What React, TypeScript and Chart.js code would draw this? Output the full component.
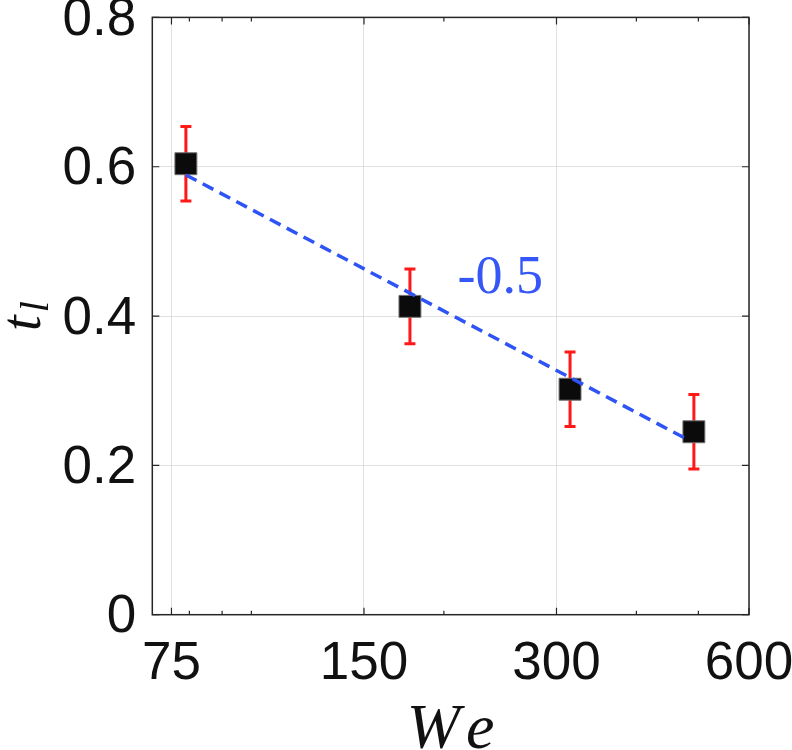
import React, { useEffect, useRef } from "react";
import { Chart, registerables } from "chart.js";

Chart.register(...registerables);

// ---- data ----
const weValues = [79, 177, 315, 492];
const tlValues = [0.604, 0.413, 0.302, 0.245];
const tlErrors = [0.05, 0.05, 0.05, 0.05];
const fitWe = [79, 485];
const fitTl = [0.589, 0.233];
const xTickValues = [75, 150, 300, 600];
const xMinorTickValues = [80, 90, 100, 200, 400, 500];
const yTickValues = [0, 0.2, 0.4, 0.6, 0.8];
const yTickLabels = ["0", "0.2", "0.4", "0.6", "0.8"];
const slopeText = "-0.5";
const slopeAnchor = { x: 210, y: 0.431 };
const xTitleParts = ["W", "e"];
const yTitleMain = "t";
const yTitleSub = "l";

const AXIS = "#262626";

const decorPlugin = {
  id: "decor",
  beforeDatasetsDraw(chart: any) {
    const { ctx, scales } = chart;
    const x = scales.x, y = scales.y;
    ctx.save();
    ctx.strokeStyle = "rgb(255,24,24)";
    ctx.lineWidth = 3;
    weValues.forEach((w, i) => {
      const px = x.getPixelForValue(w);
      const top = y.getPixelForValue(tlValues[i] + tlErrors[i]);
      const bot = y.getPixelForValue(tlValues[i] - tlErrors[i]);
      ctx.beginPath();
      ctx.moveTo(px, top);
      ctx.lineTo(px, bot);
      ctx.moveTo(px - 5.5, top);
      ctx.lineTo(px + 5.5, top);
      ctx.moveTo(px - 5.5, bot);
      ctx.lineTo(px + 5.5, bot);
      ctx.stroke();
    });
    ctx.restore();
  },
  afterDraw(chart: any) {
    const { ctx, chartArea, scales } = chart;
    const x = scales.x, y = scales.y;
    const { left, right, top, bottom } = chartArea;
    ctx.save();
    // box
    ctx.strokeStyle = AXIS;
    ctx.lineWidth = 1.5;
    ctx.strokeRect(left, top, right - left, bottom - top);
    // ticks
    ctx.lineWidth = 1.2;
    ctx.beginPath();
    xTickValues.forEach((v) => {
      const px = x.getPixelForValue(v);
      ctx.moveTo(px, bottom); ctx.lineTo(px, bottom - 7);
      ctx.moveTo(px, top); ctx.lineTo(px, top + 7);
    });
    xMinorTickValues.forEach((v) => {
      const px = x.getPixelForValue(v);
      ctx.moveTo(px, bottom); ctx.lineTo(px, bottom - 4);
      ctx.moveTo(px, top); ctx.lineTo(px, top + 4);
    });
    yTickValues.forEach((v) => {
      const py = y.getPixelForValue(v);
      ctx.moveTo(left, py); ctx.lineTo(left + 7, py);
      ctx.moveTo(right, py); ctx.lineTo(right - 7, py);
    });
    ctx.stroke();

    // slope label
    ctx.fillStyle = "#3557f7";
    ctx.font = "54px 'Liberation Serif'";
    ctx.textAlign = "left";
    ctx.textBaseline = "alphabetic";
    ctx.fillText(slopeText, x.getPixelForValue(slopeAnchor.x), y.getPixelForValue(slopeAnchor.y));

    // x title (math italic with a small gap)
    ctx.fillStyle = "#111";
    ctx.font = "italic 64px 'Liberation Serif'";
    const gap = 6;
    const w0 = ctx.measureText(xTitleParts[0]).width;
    const w1 = ctx.measureText(xTitleParts[1]).width;
    const sx = (left + right) / 2 - (w0 + gap + w1) / 2;
    ctx.fillText(xTitleParts[0], sx, 748);
    ctx.fillText(xTitleParts[1], sx + w0 + gap, 748);

    // y title with subscript
    const cy = (top + bottom) / 2;
    ctx.translate(40, cy);
    ctx.rotate(-Math.PI / 2);
    ctx.textAlign = "left";
    ctx.font = "italic 56px 'Liberation Serif'";
    const tw = ctx.measureText(yTitleMain).width;
    ctx.font = "italic 40px 'Liberation Serif'";
    const lw = ctx.measureText(yTitleSub).width;
    const start = -(tw + lw + 3) / 2;
    ctx.font = "italic 56px 'Liberation Serif'";
    ctx.fillText(yTitleMain, start, 0);
    ctx.font = "italic 40px 'Liberation Serif'";
    ctx.fillText(yTitleSub, start + tw + 3, 8);
    ctx.restore();
  },
};

export default function App() {
  const ref = useRef<HTMLCanvasElement | null>(null);
  useEffect(() => {
    if (!ref.current) return;
    const chart = new Chart(ref.current, {
      type: "scatter",
      data: {
        datasets: [
          {
            type: "line",
            data: fitWe.map((w, i) => ({ x: w, y: fitTl[i] })),
            borderColor: "#2e54f6",
            borderWidth: 3.5,
            borderDash: [12, 7],
            pointRadius: 0,
            fill: false,
            order: 0,
          } as any,
          {
            type: "scatter",
            data: weValues.map((w, i) => ({ x: w, y: tlValues[i] })),
            pointStyle: "rect",
            pointRadius: 15.5,
            backgroundColor: "#0b0b0b",
            borderColor: "#707070",
            borderWidth: 1,
            order: 1,
          },
        ],
      },
      options: {
        responsive: false,
        animation: false,
        events: [],
        layout: { padding: { left: 0, top: 17.4, right: 43, bottom: 0 } },
        plugins: { legend: { display: false }, tooltip: { enabled: false } },
        scales: {
          x: {
            type: "logarithmic",
            min: 70,
            max: 600,
            afterBuildTicks: (s: any) => {
              s.ticks = xTickValues.map((v) => ({ value: v }));
            },
            afterFit: (s: any) => {
              s.height = 135.3;
              s.paddingLeft = 0; s.paddingRight = 0; s.paddingTop = 0; s.paddingBottom = 0;
            },
            ticks: {
              autoSkip: false,
              maxRotation: 0,
              minRotation: 0,
              padding: 18,
              color: "#111",
              font: { family: "'Liberation Sans', Arial, sans-serif", size: 53 },
              callback: (v: any) => String(v),
            },
            grid: { color: "#e0e0e0", lineWidth: 1, drawTicks: false },
            border: { display: false },
          },
          y: {
            type: "linear",
            min: 0,
            max: 0.8,
            afterBuildTicks: (s: any) => {
              s.ticks = yTickValues.map((v) => ({ value: v }));
            },
            afterFit: (s: any) => {
              s.width = 152.3;
              s.paddingLeft = 0; s.paddingRight = 0; s.paddingTop = 0; s.paddingBottom = 0;
            },
            ticks: {
              padding: 16,
              labelOffset: 3,
              color: "#111",
              font: { family: "'Liberation Sans', Arial, sans-serif", size: 53 },
              callback: (_v: any, i: number) => yTickLabels[i],
            },
            grid: { color: "#e0e0e0", lineWidth: 1, drawTicks: false },
            border: { display: false },
          },
        },
      },
      plugins: [decorPlugin],
    });
    return () => chart.destroy();
  }, []);
  return (
    <div style={{ position: "absolute", left: 0, top: 0, width: 792, height: 750 }}>
      <canvas ref={ref} width={792} height={750} />
    </div>
  );
}
